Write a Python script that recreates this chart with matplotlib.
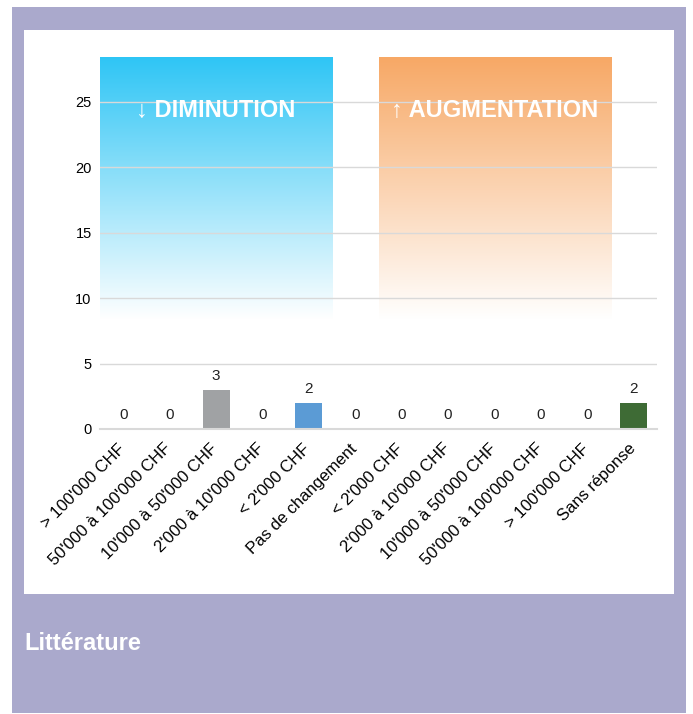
import matplotlib.pyplot as plt
import matplotlib as mpl
import numpy as np
from matplotlib.colors import to_rgb
from matplotlib.patches import Rectangle
from matplotlib.transforms import ScaledTranslation

categories = ["> 100'000 CHF", "50'000 à 100'000 CHF", "10'000 à 50'000 CHF",
              "2'000 à 10'000 CHF", "< 2'000 CHF", "Pas de changement",
              "< 2'000 CHF", "2'000 à 10'000 CHF", "10'000 à 50'000 CHF",
              "50'000 à 100'000 CHF", "> 100'000 CHF", "Sans réponse"]
values = [0, 0, 3, 0, 2, 0, 0, 0, 0, 0, 0, 2]
bar_colors = ["#a5a5a5", "#a5a5a5", "#a0a2a4", "#a5a5a5", "#5b9bd5", "#a5a5a5",
              "#a5a5a5", "#a5a5a5", "#a5a5a5", "#a5a5a5", "#a5a5a5", "#3e6b35"]
yticks = [0, 5, 10, 15, 20, 25]
zones = [("↓ DIMINUTION", 0, 4, "#2ec5f5"), ("↑ AUGMENTATION", 6, 10, "#f7a865")]
title = "Littérature"

mpl.rcParams['font.family'] = ['Liberation Sans', 'DejaVu Sans']

fig = plt.figure(figsize=(6.93, 7.14), dpi=100)
fig.patch.set_facecolor("white")

# purple frame and white card behind the chart
fig.add_artist(Rectangle((12 / 693, 1 - 713 / 714), 674 / 693, 706 / 714,
                         transform=fig.transFigure, facecolor="#aaa9cc",
                         edgecolor="none", zorder=0))
fig.add_artist(Rectangle((24 / 693, 1 - 594 / 714), 650 / 693, 564 / 714,
                         transform=fig.transFigure, facecolor="white",
                         edgecolor="none", zorder=0))
fig.text(24 / 693, 1 - 644 / 714, title, color="white", fontsize=17,
         fontweight="bold", va="center", ha="left")

ax = fig.add_axes([100 / 693, 1 - 429 / 714, 557 / 693, 372 / 714])
ax.set_facecolor("none")
ymax = 28.4
ax.set_xlim(-0.5, len(categories) - 0.5)
ax.set_ylim(0, ymax)

# gradient zones fading to white
fade_bottom = 8.3
for label, i0, i1, col in zones:
    rgb = np.array(to_rgb(col))
    t = np.linspace(0, 1, 256)[:, None]
    img = np.ones((256, 1, 4))
    img[:, 0, :3] = np.clip(rgb * (1 - t) + t, 0, 1)
    ax.imshow(img, extent=(i0 - 0.5, i1 + 0.5, fade_bottom, ymax),
              origin="upper", aspect="auto", zorder=0.2,
              interpolation="bilinear")
    ax.text((i0 + i1) / 2, 24.3, label, color="white", fontsize=17,
            fontweight="bold", ha="center", va="center", zorder=3)

x = np.arange(len(categories))
bars = ax.bar(x, values, width=0.58, color=bar_colors, zorder=2)
for xi, v in zip(x, values):
    ax.annotate(str(v), (xi, v), xytext=(0, 5), textcoords="offset points",
                ha="center", va="bottom", fontsize=11, color="#222222")

ax.set_yticks(yticks)
ax.yaxis.grid(True, color="#d9d9d9", linewidth=1, zorder=1)
for gl in ax.get_ygridlines():
    gl.set_zorder(1)
ax.tick_params(axis="y", length=0, labelsize=10.5, pad=6)
ax.tick_params(axis="x", length=0, labelsize=12, pad=4)
ax.set_xticks(x)
ax.set_xticklabels(categories, rotation=45, ha="right", rotation_mode="anchor")
shift = ScaledTranslation(-0.06, -0.065, fig.dpi_scale_trans)
for lab in ax.get_xticklabels():
    lab.set_transform(lab.get_transform() + shift)
for s in ["top", "right", "left"]:
    ax.spines[s].set_visible(False)
ax.spines["bottom"].set_color("#d9d9d9")
ax.spines["bottom"].set_linewidth(1.5)
ax.spines["bottom"].set_zorder(2.5)

fig.savefig("out.png", dpi=100)
